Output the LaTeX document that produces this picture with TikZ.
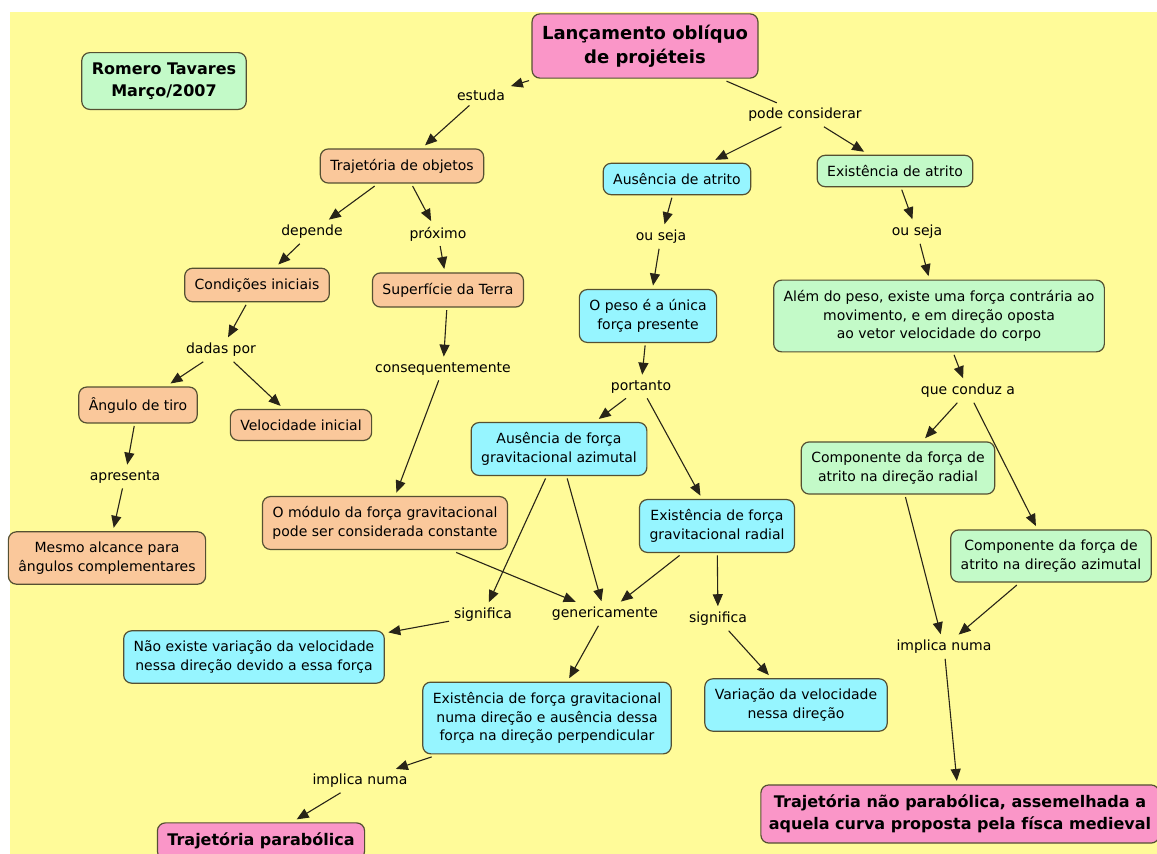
\documentclass[tikz,border=0pt]{standalone}
\usepackage{fontspec}
\setmainfont{DejaVu Sans}
\usetikzlibrary{positioning, arrows.meta}

\definecolor{corFundo}{RGB}{255,251,153}
\definecolor{corRosa}{RGB}{250,150,200}
\definecolor{corVerde}{RGB}{195,250,200}
\definecolor{corLaranja}{RGB}{250,200,155}
\definecolor{corCiano}{RGB}{150,245,255}
\definecolor{corBorda}{RGB}{85,80,50}
\definecolor{corLinha}{RGB}{40,36,24}

\begin{document}
\begin{tikzpicture}[node distance=2cm, on grid, shorten >=1pt,
  >={Triangle[length=12pt,width=10pt]},
  font=\fontsize{14}{18.8}\selectfont,
  every edge/.style={draw=corLinha, line width=1.1pt},
  conceito/.style={draw=corBorda, line width=1.2pt, rounded corners=8pt,
    align=center, inner xsep=10pt, inner ysep=10pt, outer sep=3pt},
  laranja/.style={conceito, fill=corLaranja},
  ciano/.style={conceito, fill=corCiano},
  verde/.style={conceito, fill=corVerde},
  rosa/.style={conceito, fill=corRosa, font=\fontsize{16}{22}\selectfont\bfseries},
  ligacao/.style={inner sep=3pt, outer sep=2pt}]

  % fundo
  \fill[white] (0,0) rectangle (1157pt,-854pt);
  \fill[corFundo] (10pt,-12pt) rectangle (1157pt,-854pt);
  \useasboundingbox (0,0) rectangle (1157pt,-854pt);

  \node[rosa, inner ysep=11pt, font=\fontsize{18}{24}\selectfont\bfseries] (titulo) at (645pt,-46pt) {Lançamento oblíquo\\de projéteis};
  \node[verde, font=\fontsize{16}{22}\selectfont\bfseries] (autor) [below left=35pt and 481pt of titulo] {Romero Tavares\\Março/2007};

  % ramo esquerdo
  \node[ligacao] (estuda) [below left=49pt and 164pt of titulo] {estuda};
  \node[laranja] (trajobj) [below left=71pt and 79pt of estuda] {Trajetória de objetos};
  \node[ligacao] (depende) [below left=66pt and 90pt of trajobj] {depende};
  \node[ligacao] (proximo) [below right=68pt and 36pt of trajobj] {próximo};
  \node[laranja] (condini) [below left=53pt and 55pt of depende] {Condições iniciais};
  \node[laranja] (superf) [below right=56pt and 10pt of proximo] {Superfície da Terra};
  \node[ligacao] (dadas) [below left=65pt and 36pt of condini] {dadas por};
  \node[ligacao] (conseq) [below left=79pt and 5pt of superf] {consequentemente};
  \node[laranja] (angulo) [below left=55pt and 83pt of dadas] {Ângulo de tiro};
  \node[laranja] (velini) [below right=75pt and 80pt of dadas] {Velocidade inicial};
  \node[ligacao] (apresenta) [below left=72pt and 13pt of angulo] {apresenta};
  \node[laranja] (mesmo) [below left=81pt and 18pt of apresenta] {Mesmo alcance para\\ângulos complementares};
  \node[laranja] (modulo) [below left=154pt and 58pt of conseq] {O módulo da força gravitacional\\pode ser considerada constante};

  % ramo do meio
  \node[ligacao] (podecons) [below right=69pt and 160pt of titulo] {pode considerar};
  \node[ciano] (semat) [below left=64pt and 128pt of podecons] {Ausência de atrito};
  \node[ligacao] (ouseja1) [below left=58pt and 16pt of semat] {ou seja};
  \node[ciano] (peso) [below left=79pt and 13pt of ouseja1] {O peso é a única\\força presente};
  \node[ligacao] (portanto) [below left=71pt and 7pt of peso] {portanto};
  \node[ciano] (semgaz) [below left=62pt and 82pt of portanto] {Ausência de força\\gravitacional azimutal};
  \node[ciano] (comgrad) [below right=139pt and 76pt of portanto] {Existência de força\\gravitacional radial};
  \node[ligacao] (signif1) [below left=166pt and 76pt of semgaz] {significa};
  \node[ligacao] (generic) [below right=165pt and 46pt of semgaz] {genericamente};
  \node[ligacao] (signif2) [below right=93pt and 1pt of comgrad] {significa};
  \node[ciano] (naoexiste) [below left=42pt and 229pt of signif1] {Não existe variação da velocidade\\nessa direção devido a essa força};
  \node[ciano] (umadir) [below left=104pt and 58pt of generic] {Existência de força gravitacional\\numa direção e ausência dessa\\força na direção perpendicular};
  \node[ciano] (variacao) [below right=86pt and 78pt of signif2] {Variação da velocidade\\nessa direção};
  \node[ligacao] (implica1) [below left=63pt and 187pt of umadir] {implica numa};
  \node[rosa] (parab) [below left=60pt and 99pt of implica1] {Trajetória parabólica};

  % ramo direito
  \node[verde] (comat) [below right=56pt and 90pt of podecons] {Existência de atrito};
  \node[ligacao] (ouseja2) [below right=61pt and 22pt of comat] {ou seja};
  \node[verde] (alem) [below right=84pt and 22pt of ouseja2] {Além do peso, existe uma força contrária ao\\movimento, e em direção oposta\\ao vetor velocidade do corpo};
  \node[ligacao] (conduz) [below right=75pt and 29pt of alem] {que conduz a};
  \node[verde] (comprad) [below left=77pt and 70pt of conduz] {Componente da força de\\atrito na direção radial};
  \node[verde] (compaz) [below right=165pt and 83pt of conduz] {Componente da força de\\atrito na direção azimutal};
  \node[ligacao] (implica2) [below right=179pt and 46pt of comprad] {implica numa};
  \node[rosa, inner xsep=8pt] (naoparab) [below right=167pt and 16pt of implica2] {Trajetória não parabólica, assemelhada a\\aquela curva proposta pela físca medieval};

  \path[->]
  (titulo) edge (estuda)
  (estuda) edge (trajobj)
  (titulo) edge[-] (podecons)
  (podecons) edge (semat)
  (podecons) edge (comat)
  (trajobj) edge (depende)
  (depende) edge (condini)
  (trajobj) edge (proximo)
  (proximo) edge (superf)
  (condini) edge (dadas)
  (dadas) edge (angulo)
  (dadas) edge (velini)
  (superf) edge (conseq)
  (conseq) edge (modulo)
  (angulo) edge (apresenta)
  (apresenta) edge (mesmo)
  (semat) edge (ouseja1)
  (ouseja1) edge (peso)
  (comat) edge (ouseja2)
  (ouseja2) edge (alem)
  (peso) edge (portanto)
  (portanto) edge (semgaz)
  (portanto) edge (comgrad)
  (alem) edge (conduz)
  (conduz) edge (comprad)
  (conduz) edge (compaz)
  (modulo) edge (generic)
  (semgaz) edge (signif1)
  (semgaz) edge (generic)
  (comgrad) edge (generic)
  (comgrad) edge (signif2)
  (signif1) edge (naoexiste)
  (generic) edge (umadir)
  (signif2) edge (variacao)
  (umadir) edge (implica1)
  (implica1) edge (parab)
  (comprad) edge (implica2)
  (compaz) edge (implica2)
  (implica2) edge (naoparab);
\end{tikzpicture}
\end{document}
